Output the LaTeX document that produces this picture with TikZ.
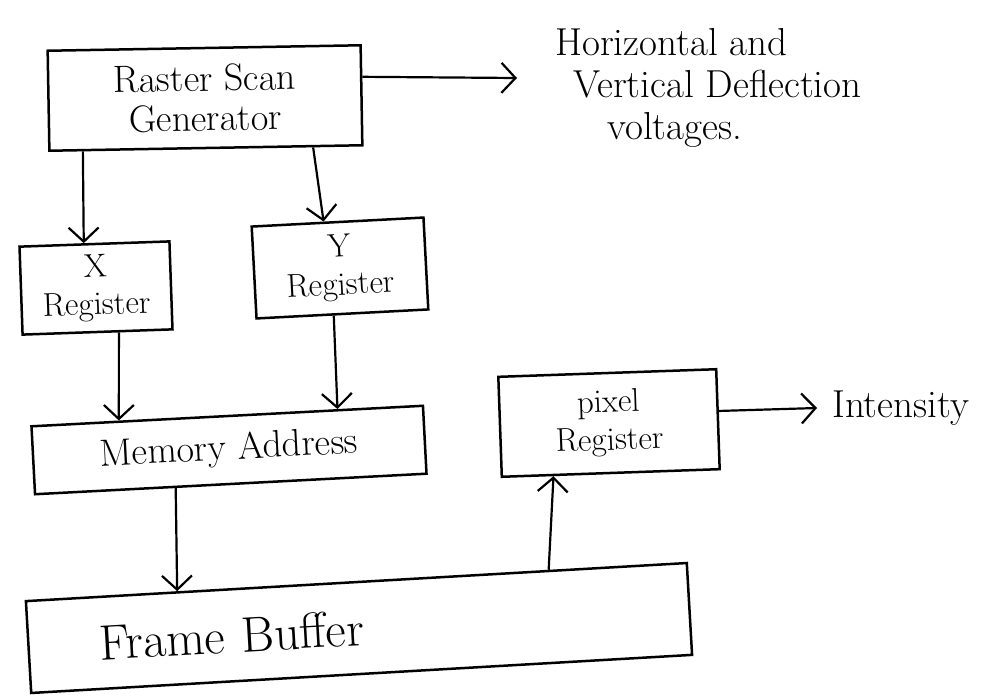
\documentclass[tikz,border=0pt]{standalone}
\usetikzlibrary{arrows.meta,calc}
\begin{document}
\begin{tikzpicture}[x=1pt,y=-1pt,
  box/.style={draw, line width=2.5pt, rectangle, inner sep=0pt, align=center, font=\fontsize{38}{40}\selectfont},
  regbox/.style={box, font=\fontsize{33}{38}\selectfont},
  flow/.style={line width=2.2pt, -{Straight Barb[length=14pt,width=30pt,line width=2.2pt]}},
  lbl/.style={font=\fontsize{39}{42}\selectfont, align=left, inner sep=0pt}]
\useasboundingbox (0,0) rectangle (1002,697);

\node[box, minimum width=313pt, minimum height=100pt, rotate=1] (raster) at (205,98) {Raster Scan\\Generator};
\node[regbox, minimum width=150pt, minimum height=88pt, rotate=2] (xreg) at (96,288) {X\\Register};
\node[regbox, minimum width=172pt, minimum height=92pt, rotate=3] (yreg) at (340,268) {Y\\Register};
\node[box, minimum width=392pt, minimum height=68pt, rotate=3] (mem) at (229,450) {Memory Address};
\node[regbox, minimum width=218pt, minimum height=100pt, rotate=2] (pix) at (609,423) {pixel\\Register};
\node[box, minimum width=662pt, minimum height=92pt, rotate=3.3, text width=600pt, inner xsep=31pt, align=left, font=\fontsize{50}{54}\selectfont] (frame) at (359,628) {\hspace*{40pt}Frame Buffer};

\node[lbl, anchor=north west] (defl) at (555,28) {Horizontal and\\\hspace*{18pt}Vertical Deflection\\\hspace*{52pt}voltages.};
\node[lbl, anchor=west, inner xsep=15pt] (inten) at (817,408) {Intensity};
\coordinate (deflend) at (517,78);

\draw[flow] ($(raster.north east)!0.32!(raster.south east)$) -- (deflend);
\draw[flow] ($(raster.south west)!0.11!(raster.south east)$) -- ($(xreg.north west)!0.43!(xreg.north east)$);
\draw[flow] ($(raster.south west)!0.84!(raster.south east)$) -- ($(yreg.north west)!0.42!(yreg.north east)$);
\draw[flow] ($(xreg.south west)!0.64!(xreg.south east)$) -- ($(mem.north west)!0.225!(mem.north east)$);
\draw[flow] ($(yreg.south west)!0.45!(yreg.south east)$) -- ($(mem.north west)!0.78!(mem.north east)$);
\draw[flow] ($(mem.south west)!0.36!(mem.south east)$) -- ($(frame.north west)!0.23!(frame.north east)$);
\draw[flow] ($(frame.north west)!0.79!(frame.north east)$) -- ($(pix.south west)!0.24!(pix.south east)$);
\draw[flow] ($(pix.north east)!0.42!(pix.south east)$) -- (inten.west);
\end{tikzpicture}
\end{document}
